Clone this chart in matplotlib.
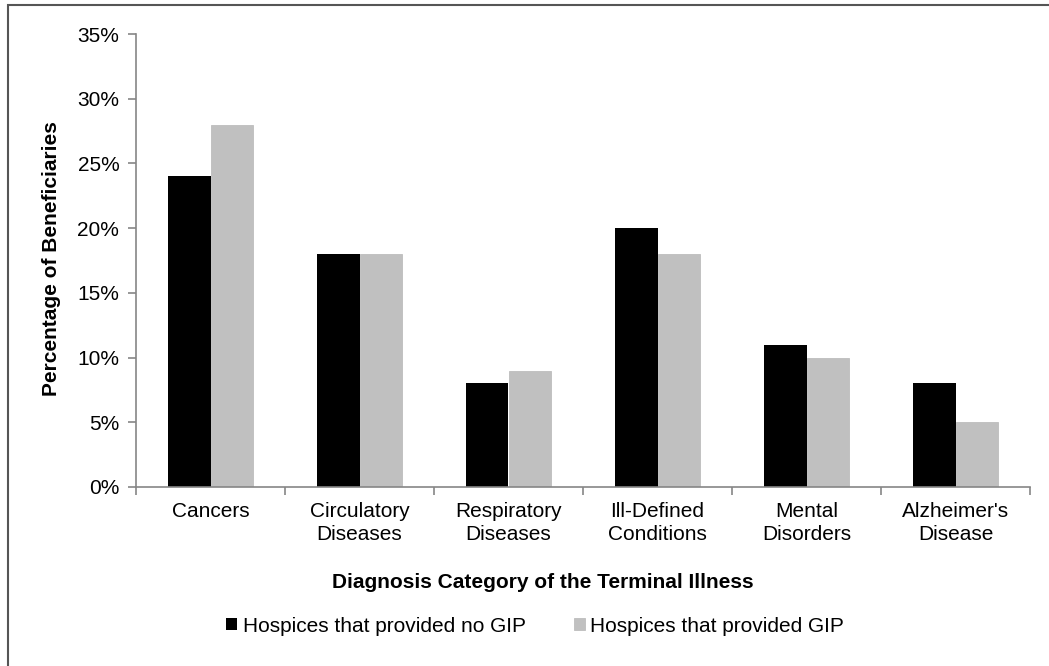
import matplotlib
matplotlib.use("Agg")
import matplotlib.pyplot as plt
from matplotlib.patches import Rectangle
from matplotlib.ticker import FuncFormatter, MultipleLocator
import numpy as np

plt.rcParams['font.family'] = ['Liberation Sans', 'DejaVu Sans']

categories = ["Cancers", "Circulatory\nDiseases", "Respiratory\nDiseases",
              "Ill-Defined\nConditions", "Mental\nDisorders", "Alzheimer's\nDisease"]
no_gip = [24, 18, 8, 20, 11, 8]
gip = [28, 18, 9, 18, 10, 5]
series_names = ["Hospices that provided no GIP", "Hospices that provided GIP"]

W, H = 1049, 666
fig = plt.figure(figsize=(W / 100, H / 100), dpi=100)
ax = fig.add_axes([136 / W, 1 - 487 / H, (1030 - 136) / W, (487 - 34) / H])

x = np.arange(len(categories))
bw = 0.285
ax.bar(x - bw / 2, no_gip, bw, color="#000000", label=series_names[0])
ax.bar(x + bw / 2, gip, bw, color="#C0C0C0", edgecolor="#BDBDBD", linewidth=0.6,
       label=series_names[1])

ax.set_xlim(-0.5, len(categories) - 0.5)
ax.set_ylim(0, 35)
ax.yaxis.set_major_locator(MultipleLocator(5))
ax.yaxis.set_major_formatter(FuncFormatter(lambda v, p: f"{int(round(v))}%"))

axis_col = "#868686"
for s in ["top", "right"]:
    ax.spines[s].set_visible(False)
for s in ["left", "bottom"]:
    ax.spines[s].set_color(axis_col)
    ax.spines[s].set_linewidth(1.2)

fs = 15
ax.set_xticks(x)
ax.set_xticklabels(categories, fontsize=fs, linespacing=1.25)
ax.tick_params(axis="x", length=0, pad=11)
ax.set_xticks(np.arange(len(categories) + 1) - 0.5, minor=True)
ax.tick_params(axis="x", which="minor", length=6, color=axis_col, width=1.2)
ax.tick_params(axis="y", length=6, color=axis_col, width=1.2, labelsize=fs, pad=6)

fig.text(52 / W, 1 - 259 / H, "Percentage of Beneficiaries", rotation=90,
         ha="center", va="center", fontsize=fs, fontweight="bold")
fig.text(543 / W, 1 - 582 / H, "Diagnosis Category of the Terminal Illness",
         ha="center", va="center", fontsize=fs, fontweight="bold")

handles, labels = ax.get_legend_handles_labels()
fig.legend(handles, labels, loc="center", bbox_to_anchor=(535 / W, 1 - 626 / H),
           ncol=2, frameon=False, fontsize=fs, handlelength=0.55, handleheight=0.55,
           handletextpad=0.25, columnspacing=2.3)

fig.patches.append(Rectangle((8 / W, -0.1), 1.2, 1 - 5 / H + 0.1,
                             transform=fig.transFigure, fill=False,
                             edgecolor="#555555", linewidth=1.5))

fig.savefig("out.png", dpi=100)
